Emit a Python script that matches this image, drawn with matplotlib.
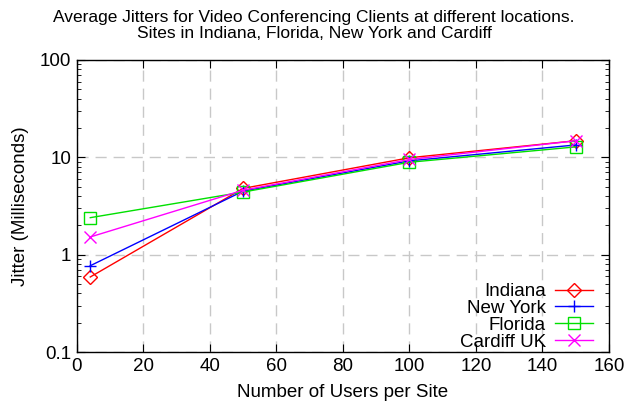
import matplotlib
matplotlib.use("Agg")
import matplotlib.pyplot as plt
from matplotlib.ticker import LogLocator, FixedLocator, FuncFormatter

plt.rcParams["font.family"] = ["Liberation Sans", "DejaVu Sans"]

# data
users = [4, 50, 100, 150]
indiana = [0.59, 4.8, 9.9, 14.8]
new_york = [0.77, 4.5, 9.2, 13.4]
florida = [2.4, 4.4, 8.9, 12.8]
cardiff = [1.52, 4.6, 9.5, 14.8]

series = [
    ("Indiana", indiana, "#ff0000", "D", 7),
    ("New York", new_york, "#0000ff", "+", 8.5),
    ("Florida", florida, "#00e000", "s", 8.5),
    ("Cardiff UK", cardiff, "#ff00ff", "x", 9),
]

fs = 13.5
fig = plt.figure(figsize=(6.28, 4.04), dpi=100)
ax = fig.add_axes([0.1226, 0.1287, 0.847, 0.7228])

for name, vals, col, mk, ms in series:
    ax.plot(users, vals, color=col, lw=1.0, marker=mk, markersize=ms,
            markerfacecolor="none", markeredgecolor=col, markeredgewidth=1.0,
            label=name)

ax.set_yscale("log")
ax.set_xlim(0, 160)
ax.set_ylim(0.1, 100)
ax.xaxis.set_major_locator(FixedLocator([0, 20, 40, 60, 80, 100, 120, 140, 160]))
ax.yaxis.set_major_locator(FixedLocator([0.1, 1, 10, 100]))
ax.yaxis.set_major_formatter(FuncFormatter(lambda v, p: "%g" % v))
ax.yaxis.set_minor_locator(LogLocator(base=10, subs=range(2, 10)))
ax.yaxis.set_minor_formatter(FuncFormatter(lambda v, p: ""))

ax.tick_params(which="both", direction="in", top=True, right=True,
               labelsize=fs, pad=4, color="black")
ax.tick_params(which="major", length=6)
ax.tick_params(which="minor", length=3)

ax.grid(True, which="major", color="#c8c8c8", linestyle=(0, (8, 5)), lw=1.0)
for s in ax.spines.values():
    s.set_linewidth(1.0)

ax.set_xlabel("Number of Users per Site", fontsize=fs, labelpad=7)
ax.set_ylabel("Jitter (Milliseconds)", fontsize=fs, labelpad=8)
fig.text(0.5, 0.975, "Average Jitters for Video Conferencing Clients at different locations.\n"
         "Sites in Indiana, Florida, New York and Cardiff",
         fontsize=12.5, linespacing=1.05, ha="center", va="top")

ax.legend(loc="lower right", bbox_to_anchor=(0.97, 0.005), frameon=False,
          markerfirst=False, fontsize=fs, handlelength=2.0, labelspacing=-0.02,
          handletextpad=0.5, borderaxespad=0.0, borderpad=0.0)

fig.savefig("out.png", dpi=100)
